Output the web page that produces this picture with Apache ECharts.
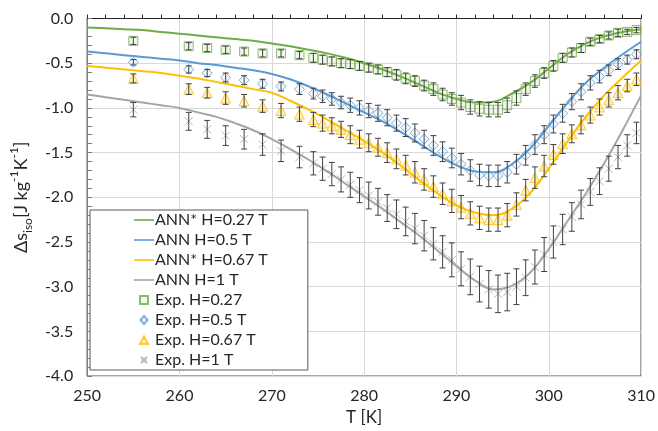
<!DOCTYPE html>
<html>
<head>
<meta charset="utf-8">
<script src="https://cdn.jsdelivr.net/npm/echarts@6/dist/echarts.min.js"></script>
<style>
  html, body { margin: 0; padding: 0; background: #fff; }
  #chart { width: 658px; height: 431px; }
</style>
</head>
<body>
<div id="chart"></div>
<script>
"use strict";

/* ANN curves, sampled every 2 K */
const CURVE_T = [250, 252, 254, 256, 258, 260, 262, 264, 266, 268, 270, 272, 274, 276, 278,
  280, 282, 284, 286, 288, 290, 292, 294, 296, 298, 300, 302, 304, 306, 308, 310];
const ANN_027 = [-0.10, -0.11, -0.12, -0.13, -0.15, -0.17, -0.19, -0.21, -0.23, -0.25, -0.28, -0.31, -0.35, -0.39, -0.44,
  -0.50, -0.57, -0.65, -0.74, -0.83, -0.90, -0.94, -0.93, -0.84, -0.72, -0.56, -0.40, -0.28, -0.20, -0.15, -0.12];
const ANN_05 = [-0.37, -0.39, -0.41, -0.43, -0.45, -0.47, -0.50, -0.52, -0.55, -0.58, -0.62, -0.68, -0.76, -0.85, -0.95,
  -1.05, -1.15, -1.27, -1.40, -1.53, -1.64, -1.71, -1.72, -1.63, -1.45, -1.20, -0.95, -0.72, -0.55, -0.40, -0.26];
const ANN_067 = [-0.53, -0.55, -0.57, -0.59, -0.61, -0.64, -0.67, -0.71, -0.75, -0.79, -0.83, -0.92, -1.02, -1.13, -1.25,
  -1.37, -1.50, -1.65, -1.81, -1.96, -2.09, -2.17, -2.20, -2.13, -1.95, -1.68, -1.38, -1.10, -0.86, -0.66, -0.47];
const ANN_1 = [-0.85, -0.88, -0.91, -0.94, -0.97, -1.00, -1.05, -1.10, -1.17, -1.25, -1.35, -1.46, -1.58, -1.71, -1.85,
  -1.99, -2.13, -2.28, -2.43, -2.60, -2.77, -2.93, -3.03, -2.99, -2.84, -2.58, -2.27, -1.96, -1.62, -1.25, -0.86];

/* experimental points */
const EXP_T = [255, 261, 263, 265, 267, 269, 271, 273, 274.5, 275.5, 276.5, 277.5, 278.5, 279.5, 280.5,
  281.5, 282.5, 283.5, 284.5, 285.5, 286.5, 287.5, 288.5, 289.5, 290.5, 291.5, 292.5, 293.5, 294.5,
  295.5, 296.5, 297.5, 298.5, 299.5, 300.5, 301.5, 302.5, 303.5, 304.5, 305.5, 306.5, 307.5, 308.5, 309.5];
const EXP_027 = [-0.25, -0.31, -0.33, -0.35, -0.37, -0.39, -0.39, -0.41, -0.44, -0.46, -0.48, -0.50, -0.51, -0.53, -0.55,
  -0.57, -0.60, -0.63, -0.67, -0.70, -0.75, -0.79, -0.85, -0.90, -0.94, -0.99, -1.01, -1.02, -1.02,
  -0.97, -0.89, -0.79, -0.70, -0.61, -0.53, -0.44, -0.38, -0.33, -0.26, -0.23, -0.19, -0.16, -0.15, -0.13];
const ERR_027 = [0.04, 0.04, 0.04, 0.04, 0.04, 0.04, 0.04, 0.04, 0.05, 0.05, 0.05, 0.05, 0.05, 0.05, 0.05,
  0.05, 0.05, 0.06, 0.06, 0.06, 0.06, 0.07, 0.07, 0.07, 0.08, 0.08, 0.08, 0.08, 0.08,
  0.08, 0.08, 0.07, 0.07, 0.06, 0.06, 0.05, 0.05, 0.05, 0.04, 0.04, 0.04, 0.04, 0.03, 0.03];
const EXP_05 = [-0.49, -0.57, -0.61, -0.66, -0.69, -0.73, -0.76, -0.79, -0.84, -0.87, -0.90, -0.94, -0.97, -1.00, -1.03,
  -1.06, -1.11, -1.17, -1.22, -1.28, -1.35, -1.42, -1.49, -1.56, -1.63, -1.70, -1.75, -1.76, -1.76,
  -1.72, -1.63, -1.53, -1.41, -1.30, -1.18, -1.06, -0.93, -0.82, -0.72, -0.65, -0.58, -0.51, -0.46, -0.40];
const ERR_05 = [0.03, 0.04, 0.04, 0.05, 0.05, 0.05, 0.05, 0.06, 0.06, 0.07, 0.07, 0.07, 0.08, 0.08, 0.08,
  0.09, 0.09, 0.09, 0.10, 0.10, 0.10, 0.11, 0.11, 0.11, 0.12, 0.12, 0.12, 0.12, 0.12,
  0.12, 0.11, 0.11, 0.11, 0.10, 0.10, 0.10, 0.09, 0.09, 0.08, 0.07, 0.06, 0.06, 0.05, 0.05];
const EXP_067 = [-0.67, -0.79, -0.83, -0.89, -0.92, -0.98, -1.03, -1.07, -1.13, -1.17, -1.20, -1.24, -1.30, -1.35, -1.39,
  -1.44, -1.50, -1.57, -1.64, -1.72, -1.80, -1.88, -1.96, -2.04, -2.11, -2.18, -2.23, -2.25, -2.25,
  -2.20, -2.08, -1.92, -1.78, -1.65, -1.52, -1.40, -1.29, -1.19, -1.08, -0.99, -0.91, -0.83, -0.75, -0.68];
const ERR_067 = [0.05, 0.06, 0.06, 0.07, 0.07, 0.07, 0.08, 0.08, 0.08, 0.09, 0.09, 0.09, 0.10, 0.10, 0.10,
  0.10, 0.11, 0.11, 0.11, 0.12, 0.12, 0.12, 0.12, 0.13, 0.13, 0.13, 0.13, 0.13, 0.13,
  0.13, 0.13, 0.12, 0.12, 0.12, 0.11, 0.11, 0.10, 0.10, 0.09, 0.09, 0.08, 0.08, 0.07, 0.07];
const EXP_1 = [-1.02, -1.15, -1.24, -1.31, -1.35, -1.41, -1.48, -1.55, -1.62, -1.68, -1.74, -1.80, -1.86, -1.92, -1.98,
  -2.05, -2.12, -2.19, -2.27, -2.35, -2.43, -2.52, -2.61, -2.70, -2.80, -2.89, -2.97, -3.03, -3.08,
  -3.06, -3.00, -2.90, -2.78, -2.64, -2.50, -2.36, -2.22, -2.08, -1.94, -1.82, -1.68, -1.55, -1.42, -1.28];
const ERR_1 = [0.08, 0.10, 0.10, 0.11, 0.11, 0.12, 0.12, 0.12, 0.13, 0.13, 0.13, 0.14, 0.14, 0.14, 0.15,
  0.15, 0.15, 0.16, 0.16, 0.17, 0.17, 0.18, 0.18, 0.19, 0.19, 0.20, 0.20, 0.21, 0.21,
  0.21, 0.20, 0.20, 0.19, 0.19, 0.18, 0.17, 0.16, 0.16, 0.15, 0.15, 0.14, 0.13, 0.12, 0.12];

const X_TICKS = { min: 250, max: 310, interval: 10 };
const Y_TICKS = { min: -4, max: 0, interval: 0.5 };

const GREEN = "#70ad47", BLUE = "#5b9bd5", YELLOW = "#ffc000", GREY = "#a5a5a5";
const ERRCOL = "#404040";
const FONT = "Lato, 'Open Sans', sans-serif";

// legend glyphs (box 20x10, corner moves pin the scale)
const ICON_LINE = "path://M0,0L20,0L20,1.6L0,1.6Z";
const ICON_SQUARE = "path://M0,0M20,10M6,1L14,1L14,9L6,9Z";
const ICON_DIAMOND = "path://M0,0M20,10M10,1L13.5,5L10,9L6.5,5Z";
const ICON_TRIANGLE = "path://M0,0M20,10M10,1.5L14,9L6,9Z";
const ICON_CROSS = "path://M0,0M20,10M7,2L13,8M13,2L7,8";

const pairs = (xs, ys) => xs.map((x, i) => [x, ys[i]]);
const bars = (xs, ys, es) => xs.map((x, i) => [x, ys[i] - es[i], ys[i] + es[i]]);

function errRender(params, api) {
  const x = api.value(0);
  const lo = api.coord([x, api.value(1)]);
  const hi = api.coord([x, api.value(2)]);
  const w = 3;
  const style = { stroke: ERRCOL, lineWidth: 1 };
  return {
    type: "group",
    children: [
      { type: "line", shape: { x1: lo[0], y1: lo[1], x2: hi[0], y2: hi[1] }, style },
      { type: "line", shape: { x1: lo[0] - w, y1: lo[1], x2: lo[0] + w, y2: lo[1] }, style },
      { type: "line", shape: { x1: hi[0] - w, y1: hi[1], x2: hi[0] + w, y2: hi[1] }, style }
    ]
  };
}

const annLine = (name, ys, color) => ({
  name, type: "line", data: pairs(CURVE_T, ys), smooth: 0.4,
  symbol: "none", z: 2,
  lineStyle: { color, width: 2 }, itemStyle: { color }
});
const expPoints = (name, ys, symbol, size, stroke, fill) => ({
  name, type: "scatter", data: pairs(EXP_T, ys), symbol, symbolSize: size, z: 3,
  itemStyle: { color: fill, borderColor: stroke, borderWidth: 1 }
});
const errBars = (ys, es) => ({
  type: "custom", data: bars(EXP_T, ys, es), renderItem: errRender, z: 4, silent: true
});

const chart = echarts.init(document.getElementById("chart"), null, { renderer: "canvas" });
chart.setOption({
  animation: false,
  backgroundColor: "#fff",
  textStyle: { fontFamily: FONT },
  grid: { left: 84, right: 14, top: 18.5, bottom: 53, show: true, borderColor: "#262626", borderWidth: 1 },
  legend: {
    orient: "vertical", left: 90, top: 210,
    padding: [0, 40, 0, 43], itemGap: 0, itemWidth: 20, itemHeight: 10,
    backgroundColor: "#fff", borderColor: "#595959", borderWidth: 1,
    selectedMode: false,
    textStyle: { fontSize: 16, color: "#262626", fontFamily: FONT, lineHeight: 20, padding: [0, 0, 0, -4] },
    data: [
      { name: "ANN* H=0.27 T", icon: ICON_LINE, itemStyle: { borderWidth: 0 } },
      { name: "ANN H=0.5 T", icon: ICON_LINE, itemStyle: { borderWidth: 0 } },
      { name: "ANN* H=0.67 T", icon: ICON_LINE, itemStyle: { borderWidth: 0 } },
      { name: "ANN H=1 T", icon: ICON_LINE, itemStyle: { borderWidth: 0 } },
      { name: "Exp. H=0.27", icon: ICON_SQUARE },
      { name: "Exp. H=0.5 T", icon: ICON_DIAMOND },
      { name: "Exp. H=0.67 T", icon: ICON_TRIANGLE },
      { name: "Exp. H=1 T", icon: ICON_CROSS }
    ]
  },
  xAxis: {
    type: "value", min: X_TICKS.min, max: X_TICKS.max, interval: X_TICKS.interval,
    name: "T [K]", nameLocation: "middle", nameGap: 30,
    nameTextStyle: { fontSize: 17, color: "#262626", fontFamily: FONT },
    axisLine: { lineStyle: { color: "#262626", width: 1 } },
    axisTick: { show: true, inside: true, length: 4, lineStyle: { color: "#262626" } },
    minorTick: { show: true, splitNumber: 5, length: 4, lineStyle: { color: "#262626" } },
    axisLabel: { fontSize: 16, color: "#262626", margin: 12, fontFamily: FONT },
    splitLine: { show: true, lineStyle: { color: "#d9d9d9", width: 1 } }
  },
  yAxis: {
    type: "value", min: Y_TICKS.min, max: Y_TICKS.max, interval: Y_TICKS.interval,
    name: "{n|Δs}{sub|iso}{n|[J kg}{sup|-1}{n|K}{sup|-1}{n|]}",
    nameLocation: "middle", nameGap: 46, nameRotate: 90,
    nameTextStyle: {
      color: "#262626", fontFamily: FONT,
      rich: {
        n: { fontSize: 18, lineHeight: 26, color: "#262626", fontFamily: FONT },
        sub: { fontSize: 12, lineHeight: 12, verticalAlign: "bottom", color: "#262626", fontFamily: FONT },
        sup: { fontSize: 12, lineHeight: 12, verticalAlign: "top", color: "#262626", fontFamily: FONT }
      }
    },
    axisLine: { show: true, lineStyle: { color: "#7f7f7f", width: 1 } },
    axisTick: { show: true, inside: true, length: 5, lineStyle: { color: "#7f7f7f" } },
    minorTick: { show: true, splitNumber: 5, length: 5, lineStyle: { color: "#7f7f7f" } },
    axisLabel: { fontSize: 16, color: "#262626", margin: 14, fontFamily: FONT, formatter: v => v.toFixed(1) },
    splitLine: { show: true, lineStyle: { color: "#d9d9d9", width: 1 } }
  },
  series: [
    annLine("ANN* H=0.27 T", ANN_027, GREEN),
    annLine("ANN H=0.5 T", ANN_05, BLUE),
    annLine("ANN* H=0.67 T", ANN_067, YELLOW),
    annLine("ANN H=1 T", ANN_1, GREY),
    expPoints("Exp. H=0.27", EXP_027, "rect", 9, GREEN, "rgba(112,173,71,0.12)"),
    expPoints("Exp. H=0.5 T", EXP_05, "diamond", 10, BLUE, "rgba(91,155,213,0.08)"),
    expPoints("Exp. H=0.67 T", EXP_067, "triangle", 10, YELLOW, "rgba(255,192,0,0.3)"),
    expPoints("Exp. H=1 T", EXP_1, "path://M0,0L10,10M10,0L0,10", 8, GREY, "rgba(0,0,0,0)"),
    errBars(EXP_027, ERR_027),
    errBars(EXP_05, ERR_05),
    errBars(EXP_067, ERR_067),
    errBars(EXP_1, ERR_1)
  ]
});
</script>
</body>
</html>
